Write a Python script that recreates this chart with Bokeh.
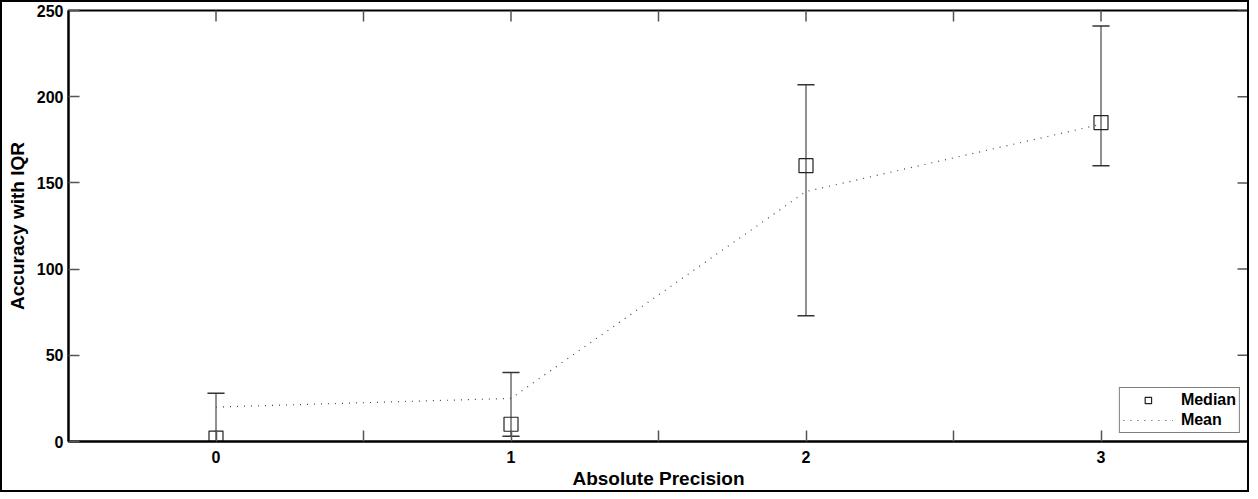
import math
from bokeh.plotting import figure
from bokeh.models import (ColumnDataSource, FixedTicker, Range1d, Legend, LegendItem)
from bokeh.embed import file_html
from bokeh.resources import INLINE

# ---- data ----
precision = [0, 1, 2, 3]
median = [2, 10, 160, 185]
q1 = [0, 3, 73, 160]
q3 = [28, 40, 207, 241]
mean = [20, 25, 145, 184]
x_ticks = [0, 0.5, 1, 1.5, 2, 2.5, 3]
x_tick_labels = {0: "0", 0.5: "", 1: "1", 1.5: "", 2: "2", 2.5: "", 3: "3"}
y_ticks = [0, 50, 100, 150, 200, 250]
X_MIN, X_MAX, Y_MIN, Y_MAX = -0.5, 3.5, 0, 250

FONT = "Liberation Sans"
cap_half = 0.029

src = ColumnDataSource(dict(
    x=precision, med=median, lo=q1, hi=q3, mean=mean,
    x0=[v - cap_half for v in precision], x1=[v + cap_half for v in precision],
))

p = figure(width=1249, height=492, output_backend="svg", toolbar_location=None,
           x_range=Range1d(X_MIN, X_MAX), y_range=Range1d(Y_MIN, Y_MAX),
           min_border_left=66, min_border_right=3, min_border_top=8,
           min_border_bottom=53,
           styles={"border": "2px solid black", "box-sizing": "border-box"})

p.background_fill_color = "white"
p.border_fill_color = "white"
p.outline_line_color = "black"
p.outline_line_width = 2
p.xgrid.visible = False
p.ygrid.visible = False

# tick marks on top and right sides (inward)
p.scatter(x=x_ticks, y=[Y_MAX] * len(x_ticks), marker="dash", angle=math.pi / 2,
          size=22, line_color="#555555", line_width=1.5)
p.scatter(x=[X_MAX] * len(y_ticks), y=y_ticks, marker="dash", size=22,
          line_color="#555555", line_width=1.5)

# error bars
p.segment(x0="x", y0="lo", x1="x", y1="hi", source=src, line_color="#222222", line_width=1)
p.segment(x0="x0", y0="hi", x1="x1", y1="hi", source=src, line_color="#333333", line_width=1.5)
p.segment(x0="x0", y0="lo", x1="x1", y1="lo", source=src, line_color="#333333", line_width=1.5)

mean_r = p.line("x", "mean", source=src, line_color="#444444", line_width=1.2, line_dash="1 6")
med_r = p.scatter("x", "med", source=src, marker="square", size=14, fill_color=None,
                  line_color="#222222", line_width=1.2)

xa = p.xaxis[0]
xa.ticker = FixedTicker(ticks=x_ticks)
xa.major_label_overrides = x_tick_labels
ya = p.yaxis[0]
ya.ticker = FixedTicker(ticks=y_ticks)

for ax in (xa, ya):
    ax.axis_line_color = "black"
    ax.axis_line_width = 2
    ax.major_tick_in = 11
    ax.major_tick_out = 0
    ax.major_tick_line_color = "#555555"
    ax.major_tick_line_width = 1.5
    ax.minor_tick_line_color = None
    ax.major_label_text_font = FONT
    ax.major_label_text_font_style = "bold"
    ax.major_label_text_font_size = "16px"
    ax.major_label_text_color = "black"
    ax.axis_label_text_font = FONT
    ax.axis_label_text_font_style = "bold"
    ax.axis_label_text_font_size = "19px"
    ax.axis_label_text_color = "black"

xa.axis_label = "Absolute Precision"
xa.major_label_standoff = 9
xa.axis_label_standoff = 2
ya.axis_label = "Accuracy with IQR"
ya.major_label_standoff = 5
ya.axis_label_standoff = 6

legend = Legend(items=[LegendItem(label="Median", renderers=[med_r]),
                       LegendItem(label="Mean", renderers=[mean_r])],
                location="bottom_right")
legend.label_text_font = FONT
legend.label_text_font_style = "bold"
legend.label_text_font_size = "16px"
legend.label_text_color = "black"
legend.border_line_color = "black"
legend.border_line_width = 1
legend.background_fill_alpha = 1
legend.glyph_width = 50
legend.glyph_height = 16
legend.label_standoff = 8
legend.padding = 3
legend.spacing = 2
legend.margin = 8
legend.label_height = 16
p.add_layout(legend, "center")

open("out.html", "w").write(file_html(p, INLINE))
